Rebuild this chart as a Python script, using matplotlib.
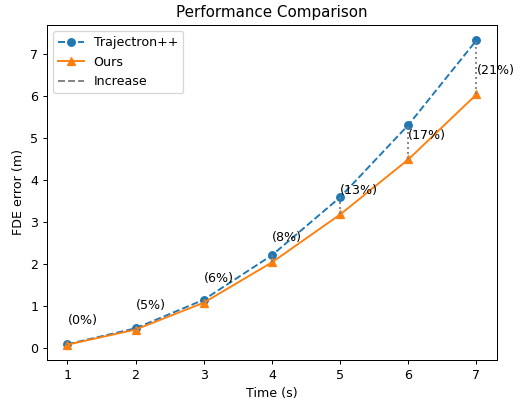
import matplotlib
matplotlib.use("Agg")
import matplotlib.pyplot as plt
import numpy as np

time_s = [1, 2, 3, 4, 5, 6, 7]
trajectron = [0.08, 0.46, 1.14, 2.20, 3.58, 5.30, 7.32]
ours = [0.07, 0.43, 1.07, 2.03, 3.17, 4.48, 6.03]
increase_pct = [0, 5, 6, 8, 13, 17, 21]

DPI = 91
fig = plt.figure(figsize=(522 / DPI, 403 / DPI), dpi=DPI)
ax = fig.add_axes([0.090, 0.107, 0.862, 0.831])

ax.plot(time_s, trajectron, 'o--', color='#1f77b4', label='Trajectron++')
ax.plot(time_s, ours, '^-', color='#ff7f0e', label='Ours')
for x, a, b, p in zip(time_s, trajectron, ours, increase_pct):
    ax.vlines(x, b, a, colors='gray', linestyles=':')
    ax.text(x, b + 0.58, f'({p}%)', ha='left', va='center', fontsize=10)
ax.plot([], [], '--', color='gray', label='Increase')

ax.set_title('Performance Comparison')
ax.set_xlabel('Time (s)')
ax.set_ylabel('FDE error (m)')
ax.legend(loc='upper left')
fig.savefig('out.png', dpi=DPI)
